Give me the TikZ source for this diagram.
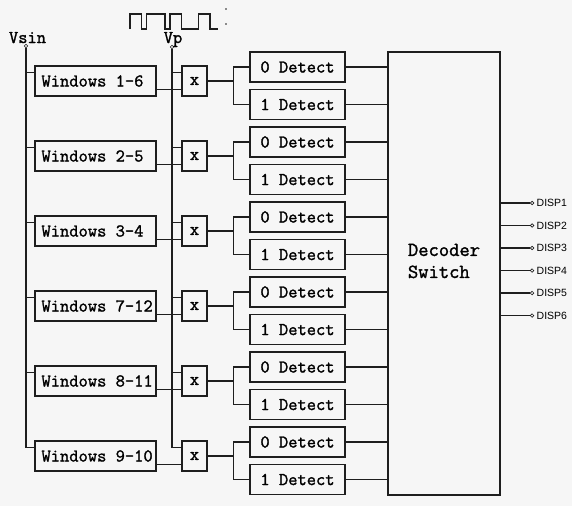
\documentclass[tikz,border=0pt]{standalone}
\usepackage{fontspec}
\newfontfamily\boxfont{Latin Modern Mono}[FakeBold=1.5]
\newfontfamily\dispfont{Liberation Sans}
\usetikzlibrary{positioning}
\definecolor{paper}{RGB}{246,246,246}
\definecolor{ink}{RGB}{30,30,30}

\begin{document}
\begin{tikzpicture}[x=1pt,y=-1pt,line width=1.2pt,draw=ink,
 box/.style={draw=ink,fill=paper,minimum height=30pt,inner sep=0pt,font=\boxfont\fontsize{18}{20}\selectfont},
 winbox/.style={box,minimum width=121pt},
 mulbox/.style={box,minimum width=25pt},
 detbox/.style={box,minimum width=95pt},
 term/.style={circle,draw=ink,fill=paper,inner sep=0pt,minimum size=3.5pt,line width=.7pt},
 lbl/.style={font=\boxfont\fontsize{18}{20}\selectfont,inner sep=0pt},
 displbl/.style={font=\dispfont\fontsize{10.5}{12}\selectfont,inner sep=1pt}]

\fill[paper](0,0)rectangle(572,506);
\useasboundingbox(0,0)rectangle(572,506);

% clock waveform above the Vp rail
\draw[line width=1.2pt](130,29)--(130,14)--(141.7,14)--(141.7,29)--(146.7,29)--(146.7,14)--(165,14)--(165,29)--(170,29)--(170,14)--(181.7,14)--(181.7,29)--(198.3,29)--(198.3,14)--(210,14)--(210,29)--(218.3,29);
\fill[ink](226,9)circle(.8);
\fill[ink](226,24)circle(.8);

% input rails
\node[term](vsin)at(26,46){};
\node[term](vp)at(172,47){};
\node[lbl,anchor=base](vsintext)at(27.5,43){Vsin};
\node[lbl,anchor=base](vptext)at(173,43){Vp};

\node[draw=ink,fill=paper,minimum width=112pt,minimum height=443pt,inner sep=0pt](dec)at(444,273.5){};
\node[font=\boxfont\fontsize{20}{22}\selectfont,align=left](dectext)at(444,261){Decoder\\Switch};

\foreach \k/\name in {1/1-6,2/2-5,3/3-4,4/7-12,5/8-11,6/9-10}{
 \pgfmathsetmacro\yy{81+75*(\k-1)}
 \node[winbox](win\k)at(95.5,\yy){\makebox[108pt][l]{Windows \name}};
 \node[mulbox](mul\k)at(194.5,\yy){x};
 \node[detbox](zero\k)at(297.5,\yy-14){0 Detect};
 \node[detbox](one\k)at(297.5,\yy+23.5){1 Detect};
}

\draw(vsin.south)|-([yshift=-7pt]win6.north west);
\draw(vp.south)|-([yshift=-7pt]mul6.north west);
\foreach \k in {1,...,5}{
 \draw([yshift=-7pt]win\k.north west)--++(-9,0);
 \draw([yshift=-7pt]mul\k.north west)--++(-10,0);
}
\foreach \k in {1,...,6}{
 \draw([yshift=7pt]win\k.south east)--([yshift=7pt]mul\k.south west);
 \draw(mul\k.east)--++(26,0)coordinate(br\k);
 \draw(zero\k.west)-|(br\k)|-(one\k.west);
 \draw(zero\k.east)--(zero\k.east-|dec.west);
 \draw(one\k.east)--(one\k.east-|dec.west);
}

% display outputs
\foreach \i in {1,...,6}{
 \node[term](disp\i)at(532,{203+22.5*(\i-1)}){};
 \draw(disp\i.west)--(disp\i.west-|dec.east);
 \node[displbl,right=1pt of disp\i](disptext\i){DISP\i};
}
\end{tikzpicture}
\end{document}
